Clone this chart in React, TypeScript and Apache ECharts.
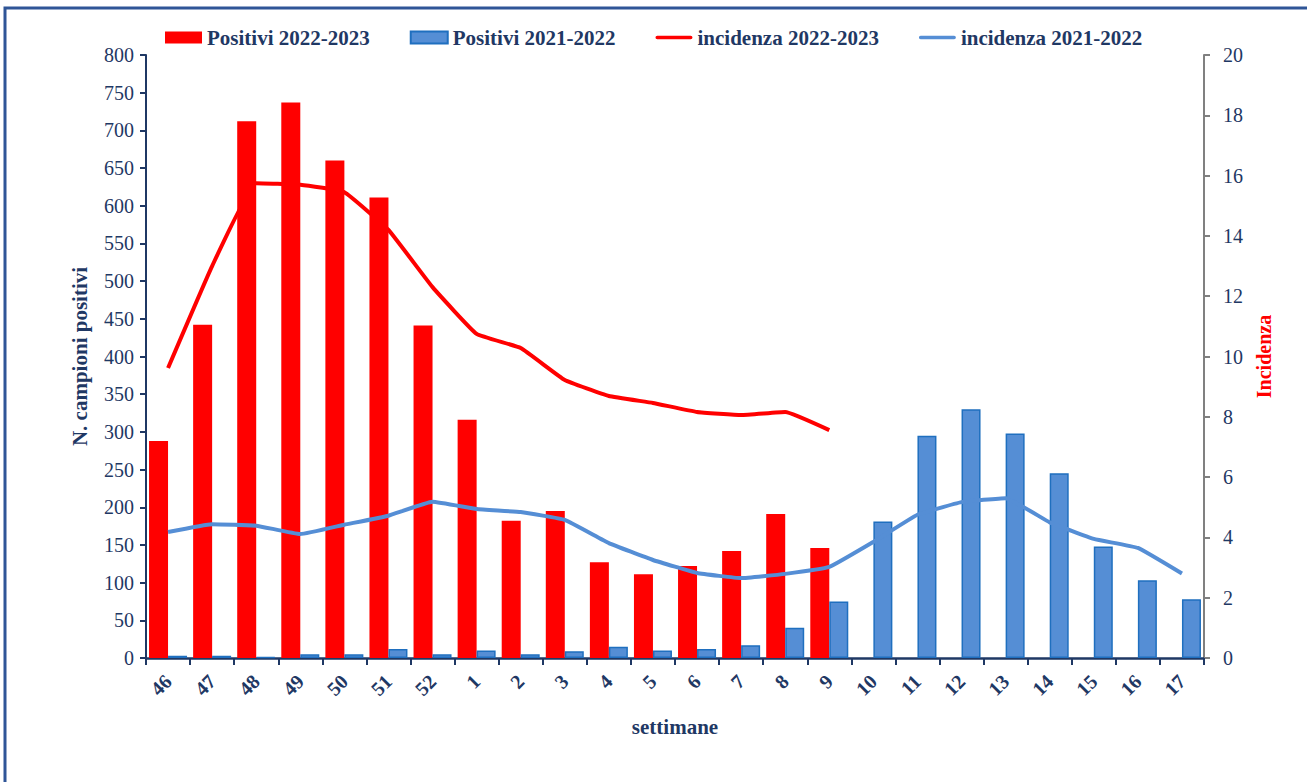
import React, { useEffect, useRef } from "react";
import * as echarts from "echarts";

const weeks = ["46", "47", "48", "49", "50", "51", "52", "1", "2", "3", "4", "5", "6", "7", "8", "9", "10", "11", "12", "13", "14", "15", "16", "17"];
const positivi2223 = [288, 442, 712, 737, 660, 611, 441, 316, 182, 195, 127, 111, 122, 142, 191, 146, null, null, null, null, null, null, null, null];
const positivi2122 = [3, 3, 1, 5, 5, 12, 5, 10, 5, 9, 15, 10, 12, 17, 40, 75, 181, 295, 330, 298, 245, 148, 103, 78];
const incidenza2223 = [9.62, 13.0, 15.75, 15.7, 15.45, 14.2, 12.3, 10.75, 10.28, 9.22, 8.69, 8.46, 8.16, 8.06, 8.16, 7.56, null, null, null, null, null, null, null, null];
const incidenza2122 = [4.18, 4.44, 4.39, 4.11, 4.42, 4.72, 5.18, 4.94, 4.84, 4.58, 3.81, 3.25, 2.82, 2.65, 2.79, 3.02, 3.85, 4.75, 5.17, 5.3, 4.5, 3.95, 3.65, 2.8];

const NAVY = "#1F3864";
const FONT = "Liberation Serif";
const LINE_ICON = "path://M0,0L0.01,0L0.01,0.01L0,0.01Z M1.5,4.2L35.5,4.2A1.8,1.8 0 0 1 35.5,7.8L1.5,7.8A1.8,1.8 0 0 1 1.5,4.2Z M36.99,11.99L37,11.99L37,12L36.99,12Z";

const tickRich = {
  t: { fontFamily: FONT, fontSize: 20, fontWeight: "normal", color: NAVY },
};

export default function App() {
  const ref = useRef<HTMLDivElement>(null);
  useEffect(() => {
    document.body.style.margin = "0";
    const chart = echarts.init(ref.current!, null, { renderer: "svg" });
    chart.setOption({
      animation: false,
      backgroundColor: "#ffffff",
      textStyle: { fontFamily: FONT },
      graphic: [
        {
          type: "rect",
          shape: { x: 5, y: 8, width: 1400, height: 900 },
          style: { fill: "none", stroke: "#2F5597", lineWidth: 3 },
          silent: true,
        },
      ],
      legend: {
        left: 160,
        top: 22,
        itemWidth: 37,
        itemHeight: 12,
        itemGap: 40,
        symbolKeepAspect: false,
        textStyle: { fontFamily: FONT, fontWeight: "bold", fontSize: 21, color: NAVY },
        data: [
          { name: "Positivi 2022-2023", icon: "rect" },
          { name: "Positivi 2021-2022", icon: "rect" },
          { name: "incidenza 2022-2023", icon: LINE_ICON, itemStyle: { color: "#FF0000", borderWidth: 0 } },
          { name: "incidenza 2021-2022", icon: LINE_ICON, itemStyle: { color: "#558ED5", borderWidth: 0 } },
        ],
      },
      grid: { left: 146, right: 103, top: 55, bottom: 124 },
      xAxis: {
        type: "category",
        data: weeks,
        axisLine: { lineStyle: { color: NAVY, width: 2.5 } },
        axisTick: { show: true, length: 7, lineStyle: { color: NAVY, width: 2 } },
        axisLabel: { rotate: 45, fontFamily: FONT, fontWeight: "bold", fontSize: 20, color: NAVY, margin: 20 },
        name: "settimane",
        nameLocation: "middle",
        nameGap: 58,
        nameTextStyle: { fontFamily: FONT, fontWeight: "bold", fontSize: 21, color: NAVY },
      },
      yAxis: [
        {
          type: "value",
          min: 0,
          max: 800,
          interval: 50,
          splitLine: { show: false },
          axisLine: { show: true, lineStyle: { color: NAVY, width: 2 } },
          axisTick: { show: true, length: 6, lineStyle: { color: NAVY, width: 2 } },
          axisLabel: {
            fontFamily: FONT,
            fontSize: 20,
            fontWeight: "normal",
            color: NAVY,
            margin: 12,
            formatter: (v: number) => "{t|" + v + "}",
            rich: tickRich,
          },
          name: "N. campioni positivi",
          nameLocation: "middle",
          nameGap: 56,
          nameRotate: 90,
          nameTextStyle: { fontFamily: FONT, fontWeight: "bold", fontSize: 21, color: NAVY },
        },
        {
          type: "value",
          min: 0,
          max: 20,
          interval: 2,
          position: "right",
          splitLine: { show: false },
          axisLine: { show: true, lineStyle: { color: "#808080", width: 2 } },
          axisTick: { show: true, length: 6, lineStyle: { color: "#808080", width: 2 } },
          axisLabel: {
            fontFamily: FONT,
            fontSize: 20,
            fontWeight: "normal",
            color: NAVY,
            margin: 19,
            formatter: (v: number) => "{t|" + v + "}",
            rich: tickRich,
          },
          name: "Incidenza",
          nameLocation: "middle",
          nameGap: 48,
          nameRotate: 90,
          nameTextStyle: { fontFamily: FONT, fontWeight: "bold", fontSize: 20, color: "#FF0000" },
        },
      ],
      series: [
        {
          name: "Positivi 2022-2023",
          type: "bar",
          data: positivi2223,
          barWidth: 19,
          barGap: "0%",
          itemStyle: { color: "#FF0000" },
        },
        {
          name: "Positivi 2021-2022",
          type: "bar",
          data: positivi2122,
          barWidth: 19,
          barGap: "0%",
          itemStyle: { color: "#558ED5", borderColor: "#1F6FBF", borderWidth: 1.5 },
        },
        {
          name: "incidenza 2022-2023",
          type: "line",
          yAxisIndex: 1,
          data: incidenza2223,
          symbol: "none",
          smooth: 0.1,
          lineStyle: { color: "#FF0000", width: 4 },
          itemStyle: { color: "#FF0000" },
        },
        {
          name: "incidenza 2021-2022",
          type: "line",
          yAxisIndex: 1,
          data: incidenza2122,
          symbol: "none",
          smooth: 0.1,
          lineStyle: { color: "#558ED5", width: 4 },
          itemStyle: { color: "#558ED5" },
        },
      ],
    });
    return () => chart.dispose();
  }, []);
  return <div ref={ref} style={{ width: 1307, height: 782 }} />;
}
